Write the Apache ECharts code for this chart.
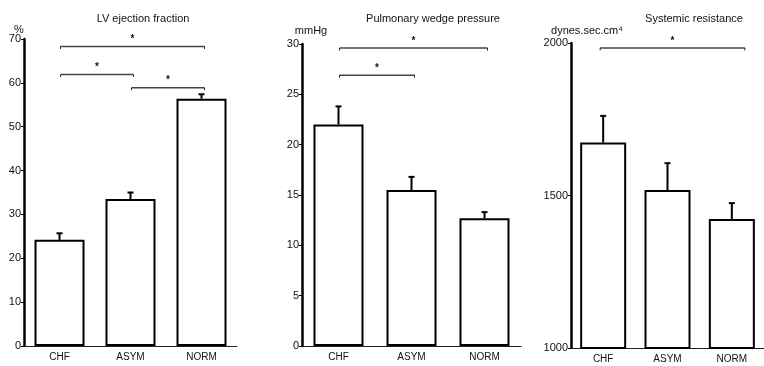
<!DOCTYPE html>
<html><head><meta charset="utf-8">
<script src="https://cdn.jsdelivr.net/npm/echarts@6/dist/echarts.min.js"></script>
<style>html,body{margin:0;padding:0;background:#fff}#c{width:764px;height:366px}</style>
</head><body><div id="c"></div>
<script>
var categories = ['CHF', 'ASYM', 'NORM'];
var titles = ['LV ejection fraction', 'Pulmonary wedge pressure', 'Systemic resistance'];
var units = ['%', 'mmHg', 'dynes.sec.cm⁴'];

var lvefMean = [24.2, 33.5, 56.4];
var lvefSem = [1.5, 1.5, 1.0];
var pwpMean = [22.0, 15.5, 12.7];
var pwpSem = [1.8, 1.3, 0.6];
var srMean = [1674, 1518, 1423];
var srSem = [87, 88, 52];

// significance brackets: [fromIndex, toIndex, yLevel]
var lvefSig = [[0, 2, 68.3], [0, 1, 61.9], [1, 2, 58.9]];
var pwpSig = [[0, 2, 29.6], [0, 1, 26.9]];
var srSig = [[0, 2, 1984]];

var yMin = [0, 0, 1000];
var yMax = [70, 30, 2000];
var yInterval = [10, 5, 500];

var means = [lvefMean, pwpMean, srMean];
var sems = [lvefSem, pwpSem, srSem];
var sigs = [lvefSig, pwpSig, srSig];

var grids = [
  {left: 24, top: 39, width: 213, height: 307},
  {left: 302, top: 44, width: 219, height: 302},
  {left: 571, top: 43, width: 203, height: 305}
];
var barWidths = [50, 50, 46];
var sigExtend = [[1, 3], [1, 3], [-3, 13]];
var titleX = [138, 428, 689];
var unitPos = [[14, 26], [306, 27], [582, 27]];
var font = 'Liberation Sans, Arial, sans-serif';

var xAxes = [], yAxes = [], series = [], titleList = [];
for (var i = 0; i < 3; i++) {
  xAxes.push({
    type: 'category', gridIndex: i, data: categories,
    axisLine: {lineStyle: {color: '#222', width: 1}},
    axisTick: {show: false},
    axisLabel: {color: '#111', fontSize: 10, fontFamily: font, margin: 6}
  });
  yAxes.push({
    type: 'value', gridIndex: i, min: yMin[i], max: yMax[i], interval: yInterval[i],
    axisLine: {show: true, lineStyle: {color: '#000', width: 2.5}},
    axisTick: {show: true, length: 3, lineStyle: {color: '#000', width: 1}},
    splitLine: {show: false},
    axisLabel: {color: '#111', fontSize: 11, fontFamily: font, margin: 3,
      formatter: function (v) { return String(v); }}
  });
  series.push({
    type: 'bar', xAxisIndex: i, yAxisIndex: i, data: means[i], barWidth: barWidths[i],
    itemStyle: {color: '#fff', borderColor: '#000', borderWidth: 2},
    silent: true, z: 2
  });
  (function (m, s) {
    series.push({
      type: 'custom', xAxisIndex: i, yAxisIndex: i,
      data: m.map(function (v, k) { return [k, v, v + s[k]]; }),
      renderItem: function (params, api) {
        var b = api.coord([api.value(0), api.value(1)]);
        var t = api.coord([api.value(0), api.value(2)]);
        return {type: 'group', children: [
          {type: 'line', shape: {x1: b[0], y1: b[1], x2: t[0], y2: t[1]}, style: {stroke: '#000', lineWidth: 2}},
          {type: 'line', shape: {x1: t[0] - 3, y1: t[1], x2: t[0] + 3, y2: t[1]}, style: {stroke: '#000', lineWidth: 2}}
        ]};
      }, z: 3
    });
  })(means[i], sems[i]);
  (function (ext) {
    series.push({
      type: 'custom', xAxisIndex: i, yAxisIndex: i, data: sigs[i],
      renderItem: function (params, api) {
        var p1 = api.coord([api.value(0), api.value(2)]);
        var p2 = api.coord([api.value(1), api.value(2)]);
        var x1 = p1[0] + ext[0], x2 = p2[0] + ext[1];
        return {type: 'group', children: [
          {type: 'line', shape: {x1: x1, y1: p1[1], x2: x2, y2: p1[1]}, style: {stroke: '#444', lineWidth: 1.5}},
          {type: 'line', shape: {x1: x1, y1: p1[1], x2: x1, y2: p1[1] + 2.5}, style: {stroke: '#222', lineWidth: 1}},
          {type: 'line', shape: {x1: x2, y1: p1[1], x2: x2, y2: p1[1] + 2.5}, style: {stroke: '#222', lineWidth: 1}},
          {type: 'text', style: {text: '*', x: (x1 + x2) / 2, y: p1[1] - 2, textAlign: 'center', textVerticalAlign: 'bottom', fill: '#111', font: 'bold 10px ' + font}}
        ]};
      }, z: 4
    });
  })(sigExtend[i]);
  titleList.push({
    text: titles[i], left: titleX[i], top: 8, textAlign: 'center',
    textStyle: {fontSize: 11, fontWeight: 'normal', color: '#111', fontFamily: font}
  });
  titleList.push({
    text: units[i], left: unitPos[i][0], top: unitPos[i][1] - 7, textAlign: 'center',
    textStyle: {fontSize: 11, fontWeight: 'normal', color: '#111', fontFamily: font}
  });
}

var chart = echarts.init(document.getElementById('c'), null, {renderer: 'canvas'});
chart.setOption({
  animation: false,
  backgroundColor: '#fff',
  title: titleList,
  grid: grids,
  xAxis: xAxes,
  yAxis: yAxes,
  series: series
});
</script></body></html>
